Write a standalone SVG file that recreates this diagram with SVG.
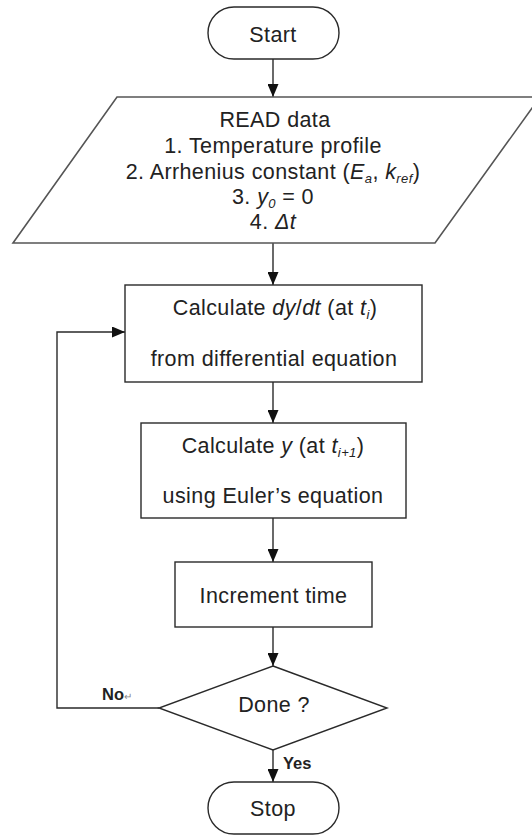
<svg xmlns="http://www.w3.org/2000/svg" width="532" height="836" viewBox="0 0 532 836">
<style>
.shape{fill:#ffffff;stroke:#2a2a2a;stroke-width:1.4}
.para{fill:#ffffff;stroke:#555555;stroke-width:1.6}
.t{font-family:"Liberation Sans",Arial,sans-serif;font-size:21.5px;fill:#222222;text-anchor:middle;letter-spacing:0.4px}
.i{font-style:italic}
.sub{font-size:13px;font-style:italic}
.lbl{font-family:"Liberation Sans",Arial,sans-serif;font-size:16.5px;font-weight:bold;fill:#222222}
.conn{fill:none;stroke:#2a2a2a;stroke-width:1.4}
</style>
<defs>
<marker id="arr" markerUnits="userSpaceOnUse" markerWidth="13" markerHeight="11" refX="13" refY="5.5" orient="auto">
<path d="M0,0 L13,5.5 L0,11 z" fill="#111111"/>
</marker>
</defs>
<rect width="532" height="836" fill="#ffffff"/>
<g id="connectors">
<line class="conn" x1="273" y1="59" x2="273" y2="97" marker-end="url(#arr)"/>
<line class="conn" x1="273" y1="243" x2="273" y2="285" marker-end="url(#arr)"/>
<line class="conn" x1="273" y1="382" x2="273" y2="423" marker-end="url(#arr)"/>
<line class="conn" x1="273" y1="518" x2="273" y2="562" marker-end="url(#arr)"/>
<line class="conn" x1="273" y1="627" x2="273" y2="666" marker-end="url(#arr)"/>
<line class="conn" x1="273" y1="750" x2="273" y2="782" marker-end="url(#arr)"/>
<polyline class="conn" points="159,708 57,708 57,332 125,332" marker-end="url(#arr)"/>
<text class="lbl" x="102" y="700">No<tspan font-size="10" font-weight="normal" fill="#888888">↵</tspan></text>
<text class="lbl" x="283" y="769">Yes</text>
</g>
<g id="start">
<rect class="shape" x="208" y="7" width="131" height="52" rx="26" ry="26"/>
<text class="t" x="273" y="42">Start</text>
</g>
<g id="read">
<polygon class="para" points="117,97 540,97 435,243 13,243"/>
<text class="t" x="275" y="127">READ data</text>
<text class="t" x="273" y="153">1. Temperature profile</text>
<text class="t" x="273" y="179">2. Arrhenius constant (<tspan class="i">E</tspan><tspan class="sub" dy="4">a</tspan><tspan dy="-4">, </tspan><tspan class="i">k</tspan><tspan class="sub" dy="4">ref</tspan><tspan dy="-4">)</tspan></text>
<text class="t" x="273" y="204">3. <tspan class="i">y</tspan><tspan class="sub" dy="4">0</tspan><tspan dy="-4"> = 0</tspan></text>
<text class="t" x="273" y="229">4. <tspan class="i">Δt</tspan></text>
</g>
<g id="calc-dydt">
<rect class="shape" x="125" y="285" width="297" height="97"/>
<text class="t" x="275" y="315">Calculate <tspan class="i">dy</tspan>/<tspan class="i">dt</tspan> (at <tspan class="i">t</tspan><tspan class="sub" dy="4">i</tspan><tspan dy="-4">)</tspan></text>
<text class="t" x="274" y="366">from differential equation</text>
</g>
<g id="calc-y">
<rect class="shape" x="141" y="423" width="265" height="95"/>
<text class="t" x="273" y="453">Calculate <tspan class="i">y</tspan> (at <tspan class="i">t</tspan><tspan class="sub" dy="4">i+1</tspan><tspan dy="-4">)</tspan></text>
<text class="t" x="273" y="503">using Euler’s equation</text>
</g>
<g id="increment">
<rect class="shape" x="175" y="562" width="197" height="65"/>
<text class="t" x="273.5" y="603">Increment time</text>
</g>
<g id="done">
<polygon class="shape" points="273,666 387,708 273,750 159,708"/>
<text class="t" x="274" y="712">Done ?</text>
</g>
<g id="stop">
<rect class="shape" x="208" y="782" width="131" height="52" rx="26" ry="26"/>
<text class="t" x="273" y="816">Stop</text>
</g>
</svg>
